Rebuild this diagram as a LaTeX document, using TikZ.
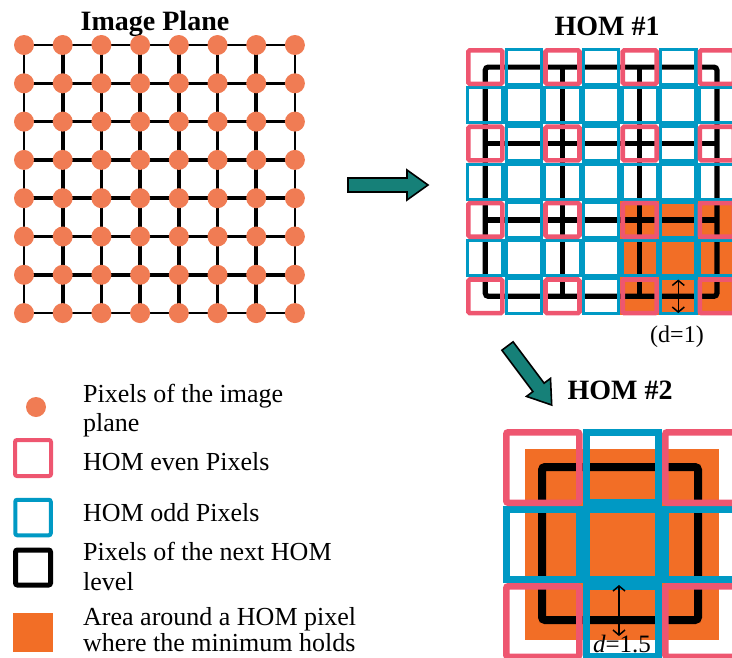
\documentclass[tikz,border=0pt]{standalone}
\usepackage{fontspec}
\setmainfont{Liberation Serif}
\usetikzlibrary{arrows.meta,calc,backgrounds}
\definecolor{dotc}{RGB}{240,124,84}
\definecolor{areac}{RGB}{242,110,38}
\definecolor{evenc}{RGB}{238,86,112}
\definecolor{oddc}{RGB}{0,153,196}
\definecolor{tealc}{RGB}{22,128,120}
\begin{document}
\begin{tikzpicture}[x=1pt,y=-1pt,
  dot/.style={circle,fill=dotc,minimum size=20pt,inner sep=0pt},
  title/.style={font=\fontsize{28}{32}\selectfont\bfseries,inner sep=0pt,anchor=base},
  lab/.style={font=\fontsize{26}{30}\selectfont,inner sep=0pt,anchor=base west},
  oddA/.style={draw=oddc,line width=3.2pt,minimum width=35.4pt,minimum height=35pt,inner sep=0pt},
  evenA/.style={draw=evenc,line width=4.6pt,rounded corners=1.5pt,minimum width=34pt,minimum height=33.6pt,inner sep=0pt},
  oddB/.style={draw=oddc,line width=7pt,minimum width=72.5pt,minimum height=70pt,inner sep=0pt},
  evenB/.style={draw=evenc,line width=6.5pt,rounded corners=2pt,minimum width=73pt,minimum height=70.5pt,inner sep=0pt},
  nextA/.style={line width=5.2pt},
  nextB/.style={line width=8pt},
  dim/.style={{Straight Barb[length=5pt,width=12pt]}-{Straight Barb[length=5pt,width=12pt]},line width=1.5pt},
  blockarrow/.style={fill=tealc,draw=black,line width=1.6pt,line join=miter}
]
\useasboundingbox (0,0) rectangle (732,657);
\clip (0,0) rectangle (732,657);

% ---------- Image plane ----------
\node[title] (t0) at (155,30) {Image Plane};
\foreach \i in {0,...,7}{
  \foreach \j in {0,...,7}{
    \node[dot] (p\i\j) at ({24+38.7*\i},{45+38.3*\j}) {};
  }}
\begin{pgfonlayer}{background}
\foreach \i [evaluate=\i as \k using int(\i+1)] in {0,...,6}{
  \foreach \j in {0,...,7}{
    \pgfmathsetmacro\lw{(\j==0 || \j==7) ? 2 : 3.6}
    \draw[line width=\lw pt] (p\i\j.center) -- (p\k\j.center);
    \draw[line width=\lw pt] (p\j\i.center) -- (p\j\k.center);
  }}
\end{pgfonlayer}

% ---------- arrows between panels ----------
\draw[blockarrow] (348,178) -- (407,178) -- (407,170) -- (428,185) -- (407,200) -- (407,192) -- (348,192) -- cycle;
\draw[blockarrow] (513.1,341.8) -- (544.1,383.2) -- (550.5,378.4) -- (551.7,405) -- (526.5,396.4) -- (532.9,391.6) -- (501.9,350.2) -- cycle;

% ---------- HOM #1 ----------
\node[title] (t1) at (607,35) {HOM \#1};
\foreach \i in {0,...,6}{
  \foreach \j in {0,...,6}{
    \coordinate (h\i\j) at ({466+38.6*(\i+0.5)},{48+38.2*(\j+0.5)});
  }}
\fill[areac] ($(h44)+(-19.3,-19.1)$) rectangle ($(h66)+(19.3,19.1)$);
\draw[nextA,rounded corners=3pt] (h00) rectangle (h66);
\foreach \k in {2,4}{
  \draw[nextA] (h\k0) -- (h\k6);
  \draw[nextA] (h0\k) -- (h6\k);
}
\foreach \i in {0,...,6}{
  \foreach \j in {0,...,6}{
    \pgfmathtruncatemacro\od{mod(\i,2)+mod(\j,2)}
    \ifnum\od>0 \node[oddA] (o\i\j) at (h\i\j) {};\fi
  }}
\foreach \i in {0,2,4,6}{
  \foreach \j in {0,2,4,6}{
    \node[evenA] (e\i\j) at (h\i\j) {};
  }}
\coordinate (dA) at (678.3,279.5);
\coordinate (dB) at (678.3,313);
\draw[dim] (dA) -- (dB);
\node[font=\fontsize{24}{28}\selectfont,inner sep=0pt,anchor=base] (d1) at (677,342) {(d=1)};

% ---------- HOM #2 ----------
\node[title] (t2) at (620,399) {HOM \#2};
\foreach \i in {0,1,2}{
  \foreach \j in {0,1,2}{
    \coordinate (g\i\j) at ({503+79.5*(\i+0.5)},{429+77*(\j+0.5)});
  }}
\fill[areac] ($(g11)+(-97,-95.5)$) rectangle ($(g11)+(97,95.5)$);
\coordinate (k1) at (542,467);
\coordinate (k2) at (698,620);
\draw[nextB,rounded corners=3pt] (k1) rectangle (k2);
\foreach \c in {10,01,11,21,12}{
  \node[oddB] (q\c) at (g\c) {};
}
\foreach \c in {00,20,02,22}{
  \node[evenB] (r\c) at (g\c) {};
}
\coordinate (dC) at (619,585);
\coordinate (dD) at (619,636);
\draw[dim] (dC) -- (dD);
\node[font=\fontsize{25}{29}\selectfont,inner sep=0pt,anchor=base] (d2) at (622,652) {\textit{d}=1.5};

% ---------- Legend ----------
\node[dot,minimum size=20pt] (L1) at (36,407) {};
\node[draw=evenc,line width=4pt,rounded corners=2pt,minimum size=36pt,inner sep=0pt] (L2) at (33,458) {};
\node[draw=oddc,line width=4pt,rounded corners=2pt,minimum size=35.5pt,inner sep=0pt] (L3) at (33,517.5) {};
\node[draw=black,line width=5pt,rounded corners=2pt,minimum size=35pt,inner sep=0pt] (L4) at (33,567.5) {};
\node[fill=areac,minimum width=40pt,minimum height=39pt,inner sep=0pt] (L5) at (33,632.5) {};

\node[lab] (x1a) at (83,402) {Pixels of the image};
\node[lab] (x1b) at (83,431) {plane};
\node[lab] (x2) at (83,470) {HOM even Pixels};
\node[lab] (x3) at (83,521) {HOM odd Pixels};
\node[lab] (x4a) at (83,560) {Pixels of the next HOM};
\node[lab] (x4b) at (83,590) {level};
\node[lab] (x5a) at (83,625) {Area around a HOM pixel};
\node[lab] (x5b) at (83,651) {where the minimum holds};
\end{tikzpicture}
\end{document}
